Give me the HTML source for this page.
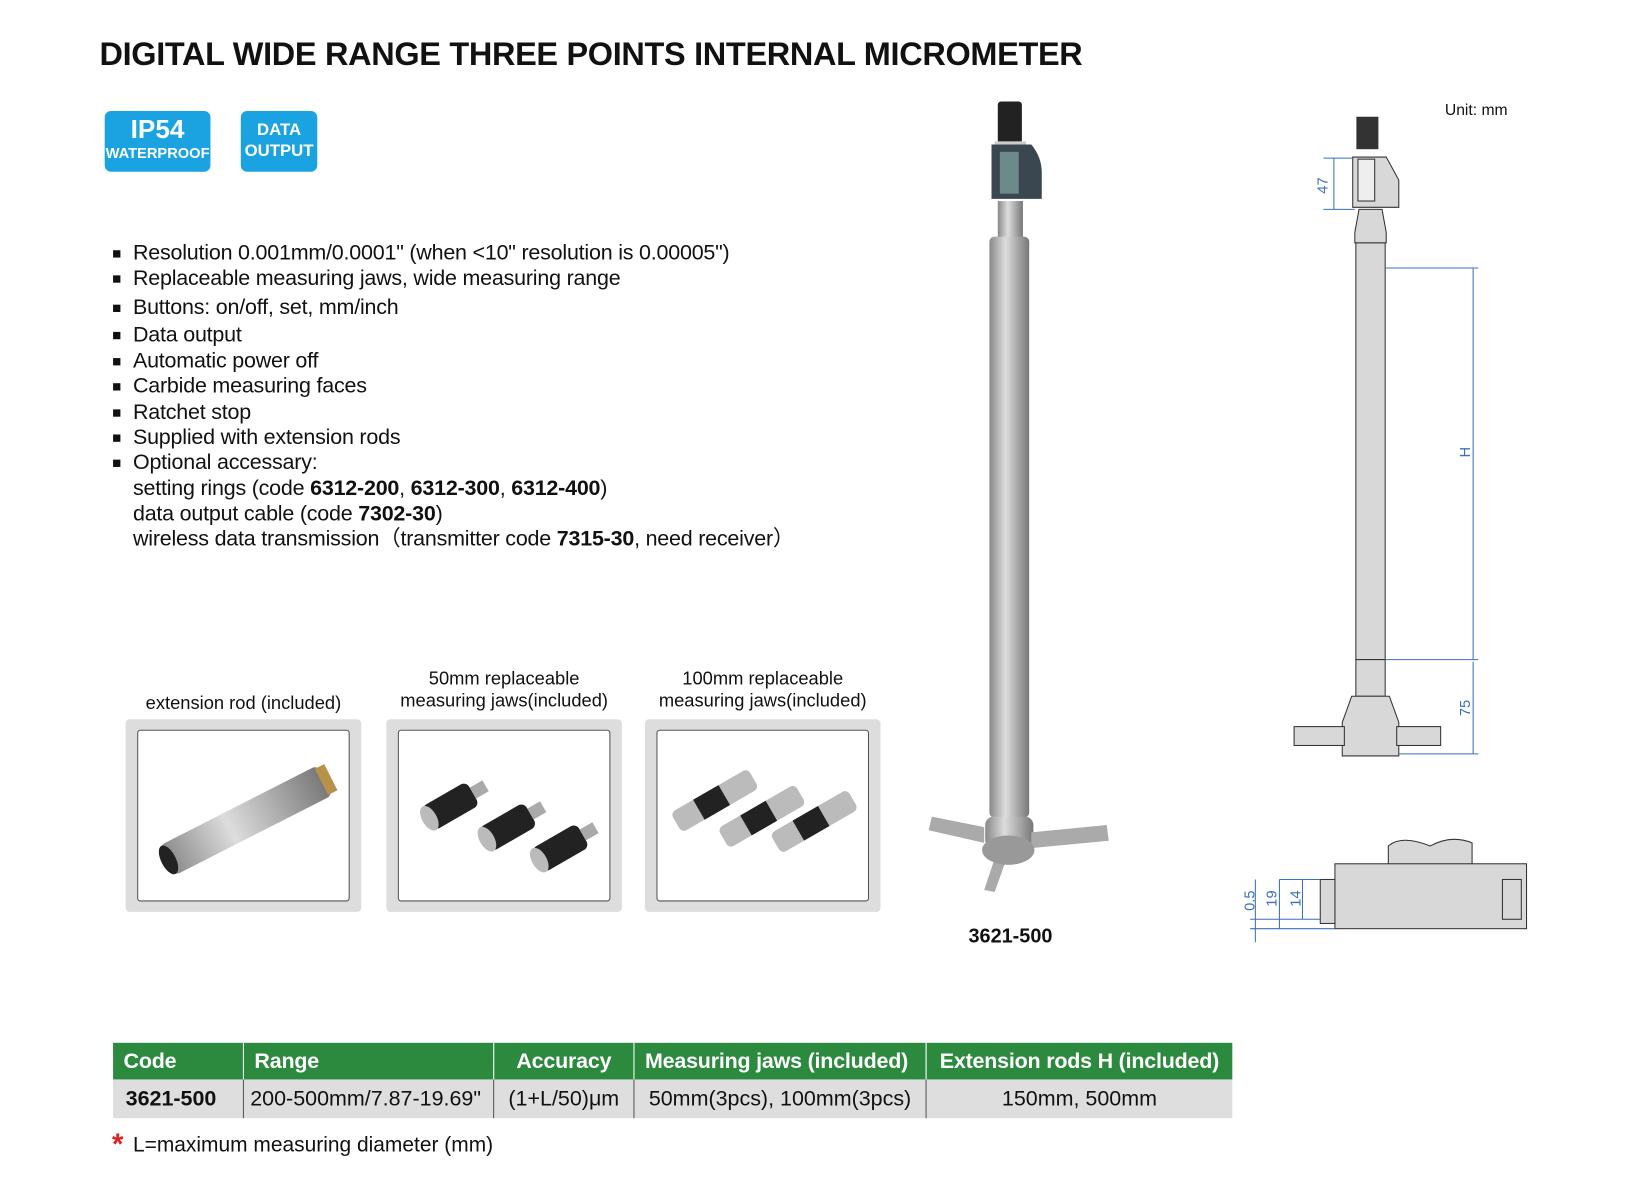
<!DOCTYPE html>
<html><head><meta charset="utf-8"><style>
body{margin:0;width:1633px;height:1179px;background:#fff;position:relative;overflow:hidden;font-family:"Liberation Sans",sans-serif;color:#111}
#w{position:absolute;left:0;top:0;width:1560px;height:1126px;transform:scale(1.047);transform-origin:0 0}
.a{position:absolute;white-space:nowrap}
.badge{position:absolute;background:#1aa3e0;border-radius:6px;color:#fff;text-align:center;font-weight:bold}
ul{position:absolute;left:108px;top:230px;margin:0;padding:0;list-style:none;font-size:20.5px;line-height:24.3px;letter-spacing:-0.2px}
li{position:relative;padding-left:19px}
li:before{content:"";position:absolute;left:0;top:9px;width:7px;height:7px;background:#111}
.box{position:absolute;background:#ddd;border-radius:4px}
.box div{position:absolute;left:11px;top:10px;right:11px;bottom:10px;background:#fff;border:1px solid #555;border-radius:3px}
.cap{position:absolute;font-size:17.5px;text-align:center;line-height:21px}
table{position:absolute;left:108px;top:996px;border-collapse:collapse;font-size:20.5px;white-space:nowrap}
th{background:#2b8a3e;color:#fff;height:35px;text-align:left;padding:0 10px;font-weight:bold;letter-spacing:-0.2px}
td{background:#dedede;height:37px;padding:0 6px;border-right:1px solid #555}
th+th{border-left:1px solid #fff}
</style></head><body><div id="w">
<div class="a" style="left:95px;top:34px;font-size:31px;font-weight:bold;letter-spacing:-0.3px">DIGITAL WIDE RANGE THREE POINTS INTERNAL MICROMETER</div>
<div class="badge" style="left:100px;top:106px;width:101px;height:58px"><div style="font-size:25px;line-height:28px;margin-top:4px">IP54</div><div style="font-size:14px">WATERPROOF</div></div>
<div class="badge" style="left:230px;top:106px;width:73px;height:58px;font-size:16px;line-height:20px;padding-top:9px;box-sizing:border-box">DATA<br>OUTPUT</div>
<ul>
<li>Resolution 0.001mm/0.0001" (when &lt;10" resolution is 0.00005")</li>
<li>Replaceable measuring jaws, wide measuring range</li>
<li style="margin-top:3px">Buttons: on/off, set, mm/inch</li>
<li style="margin-top:2px">Data output</li>
<li style="margin-top:1px">Automatic power off</li>
<li>Carbide measuring faces</li>
<li>Ratchet stop</li>
<li>Supplied with extension rods</li>
<li>Optional accessary:<br>setting rings (code <b>6312-200</b>, <b>6312-300</b>, <b>6312-400</b>)<br>data output cable (code <b>7302-30</b>)<br>wireless data transmission（transmitter code <b>7315-30</b>, need receiver）</li>
</ul>
<div class="cap" style="left:110px;top:661px;width:245px">extension rod (included)</div>
<div class="cap" style="left:359px;top:638px;width:245px">50mm replaceable<br>measuring jaws(included)</div>
<div class="cap" style="left:606px;top:638px;width:245px">100mm replaceable<br>measuring jaws(included)</div>
<div class="box" style="left:120px;top:687px;width:225px;height:184px"><div></div></div>
<div class="box" style="left:369px;top:687px;width:225px;height:184px"><div></div></div>
<div class="box" style="left:616px;top:687px;width:225px;height:184px"><div></div></div>
<svg class="a" style="left:0;top:0" width="1560" height="1126">
<defs><linearGradient id="g" x1="0" x2="1"><stop offset="0" stop-color="#888"/><stop offset=".4" stop-color="#ddd"/><stop offset="1" stop-color="#777"/></linearGradient></defs>
<g transform="rotate(-27 230 785)"><rect x="150" y="770" width="170" height="32" rx="6" fill="url(#g)"/><rect x="316" y="772" width="10" height="28" fill="#b8914a"/><ellipse cx="152" cy="786" rx="7" ry="15" fill="#222"/></g>
<g fill="#222"><g transform="rotate(-30 430 770)"><rect x="405" y="757" width="50" height="26" rx="6"/><rect x="455" y="764" width="14" height="12" fill="#aaa"/><ellipse cx="407" cy="770" rx="7" ry="13" fill="#bbb"/></g>
<g transform="rotate(-30 485 790)"><rect x="460" y="777" width="50" height="26" rx="6"/><rect x="510" y="784" width="14" height="12" fill="#aaa"/><ellipse cx="462" cy="790" rx="7" ry="13" fill="#bbb"/></g>
<g transform="rotate(-30 535 810)"><rect x="510" y="797" width="50" height="26" rx="6"/><rect x="560" y="804" width="14" height="12" fill="#aaa"/><ellipse cx="512" cy="810" rx="7" ry="13" fill="#bbb"/></g></g>
<g><g transform="rotate(-30 680 765)"><rect x="640" y="755" width="85" height="22" rx="5" fill="#bbb"/><rect x="665" y="755" width="28" height="22" fill="#222"/></g>
<g transform="rotate(-30 725 780)"><rect x="685" y="770" width="85" height="22" rx="5" fill="#bbb"/><rect x="710" y="770" width="28" height="22" fill="#222"/></g>
<g transform="rotate(-30 775 785)"><rect x="735" y="775" width="85" height="22" rx="5" fill="#bbb"/><rect x="760" y="775" width="28" height="22" fill="#222"/></g></g>
<g transform="translate(-5 0)">
<rect x="958" y="97" width="23" height="40" rx="3" fill="#222"/>
<rect x="955" y="135" width="30" height="10" fill="#ccc"/>
<path d="M952 138 H990 Q1000 150 1000 165 V190 H952 Z" fill="#3a4650"/>
<rect x="960" y="145" width="18" height="40" fill="#6d8a8a"/>
<rect x="958" y="192" width="24" height="35" fill="url(#g)"/>
<rect x="950" y="226" width="38" height="555" rx="5" fill="url(#g)"/>
<rect x="946" y="780" width="46" height="30" rx="8" fill="url(#g)"/>
<path d="M945 790 L895 780 L892 793 L945 805 Z" fill="#aaa"/>
<path d="M990 795 L1062 788 L1064 803 L990 810 Z" fill="#aaa"/>
<path d="M960 805 L945 850 L955 852 L970 810 Z" fill="#aaa"/>
<ellipse cx="968" cy="812" rx="25" ry="14" fill="#999"/>
</g>
<g transform="translate(-6 0)">
<g fill="#d8d8d8" stroke="#333" stroke-width="1">
<rect x="1302" y="112" width="20" height="30" fill="#333"/>
<path d="M1298 150 H1330 L1342 172 V198 H1298 Z"/>
<rect x="1303" y="152" width="16" height="40" fill="#eee"/>
<path d="M1304 200 H1326 L1330 222 V232 H1300 V222 Z"/>
<rect x="1301" y="232" width="28" height="398"/>
<rect x="1301" y="630" width="28" height="35"/>
<path d="M1297 665 H1333 L1342 690 V722 H1288 V690 Z"/>
<rect x="1242" y="694" width="48" height="18"/><rect x="1340" y="694" width="42" height="18"/>
<path d="M1332 808 Q1345 797 1372 808 Q1392 797 1412 805 V826 H1332 Z"/>
<rect x="1281" y="825" width="183" height="62"/>
<rect x="1267" y="840" width="14" height="42"/>
<rect x="1441" y="840" width="18" height="38"/>
</g>
<g stroke="#3b6fc4" stroke-width="1" fill="none">
<path d="M1270 151 H1298 M1270 200 H1300 M1280 151 V200"/>
<path d="M1329 256 H1418 M1329 630 H1418 M1413 256 V630 M1413 632 V720 M1342 720 H1418"/>
<path d="M1200 878 H1267 M1200 887 H1281 M1205 840 V900 M1228 840 V887 M1250 840 V878 M1228 840 H1267 M1250 840 H1267"/>
</g>
<g font-family="Liberation Sans" font-size="14" fill="#3b6fc4">
<text transform="translate(1274 185) rotate(-90)">47</text>
<text transform="translate(1410 437) rotate(-90)">H</text>
<text transform="translate(1410 684) rotate(-90)">75</text>
<text transform="translate(1204 870) rotate(-90)">0.5</text>
<text transform="translate(1225 866) rotate(-90)">19</text>
<text transform="translate(1248 866) rotate(-90)">14</text>
</g>
<text x="1386" y="110" font-family="Liberation Sans" font-size="15" fill="#111">Unit: mm</text>
</g>
<text x="925" y="900" font-family="Liberation Sans" font-size="19" font-weight="bold" fill="#111">3621-500</text>
<text x="107" y="1102" font-family="Liberation Sans" font-size="28" font-weight="bold" fill="#e02020">*</text>
</svg>
<table>
<tr><th style="width:104px">Code</th><th style="width:218px">Range</th><th style="width:113px;text-align:center">Accuracy</th><th style="width:258px">Measuring jaws (included)</th><th style="width:272px;text-align:center">Extension rods H (included)</th></tr>
<tr><td style="padding-left:12px"><b>3621-500</b></td><td>200-500mm/7.87-19.69"</td><td style="text-align:center">(1+L/50)μm</td><td style="text-align:center">50mm(3pcs), 100mm(3pcs)</td><td style="text-align:center;border-right:none">150mm, 500mm</td></tr>
</table>
<div class="a" style="left:127px;top:1083px;font-size:20px">L=maximum measuring diameter (mm)</div>
</div></body></html>
